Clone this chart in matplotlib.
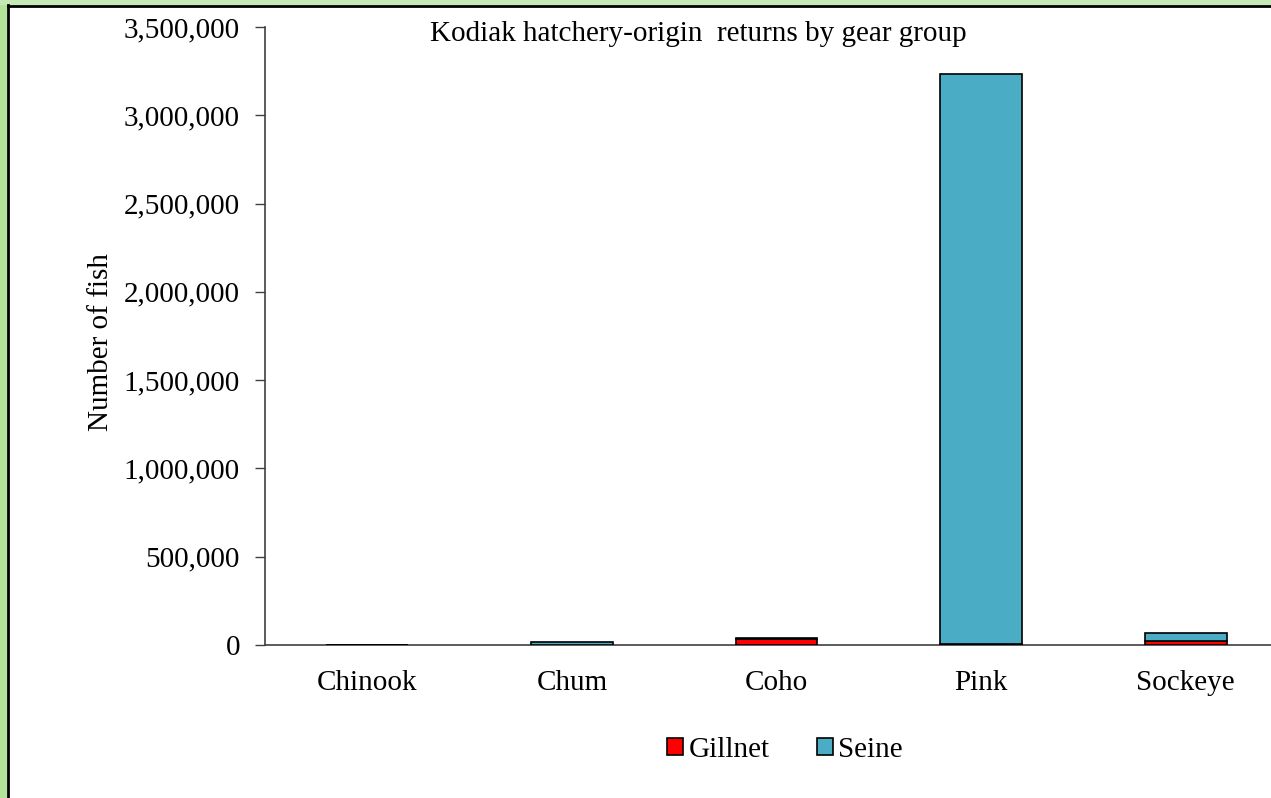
import matplotlib
matplotlib.use("Agg")
import matplotlib.pyplot as plt
from matplotlib.patches import Rectangle
from matplotlib.ticker import FuncFormatter
import numpy as np

categories = ["Chinook", "Chum", "Coho", "Pink", "Sockeye"]
gillnet = [500, 2000, 36000, 3000, 24000]
seine = [300, 13000, 1000, 3232000, 44000]
yticks = [0, 500000, 1000000, 1500000, 2000000, 2500000, 3000000, 3500000]

plt.rcParams['font.family'] = ['Liberation Serif', 'DejaVu Serif']

fig = plt.figure(figsize=(12.71, 7.98), dpi=100)
fig.patch.set_facecolor('white')

# green frame (left and top) and black border
fig.patches.append(Rectangle((0, 0), 7/1271, 1, transform=fig.transFigure,
                             facecolor='#b3e29b', edgecolor='none', zorder=0))
fig.patches.append(Rectangle((0, 1 - 5/798), 1, 5/798, transform=fig.transFigure,
                             facecolor='#c4e9b4', edgecolor='none', zorder=0))
fig.lines.append(plt.Line2D([7.5/1271, 7.5/1271], [0, 1 - 5/798], transform=fig.transFigure,
                            color='black', lw=2))
fig.lines.append(plt.Line2D([7.5/1271, 1], [1 - 5.5/798, 1 - 5.5/798], transform=fig.transFigure,
                            color='black', lw=2))

ax = fig.add_axes([265/1271, 1 - 645/798, 1023/1271, (645 - 27)/798])
x = np.arange(len(categories))
w = 0.4
ax.bar(x, gillnet, w, color='#ff0000', edgecolor='black', lw=1.2, label='Gillnet', zorder=3)
ax.bar(x, seine, w, bottom=gillnet, color='#4bacc6', edgecolor='black', lw=1.2, label='Seine', zorder=3)

ax.set_xlim(-0.5, len(categories) - 0.5)
ax.set_ylim(0, 3500000)
ax.set_yticks(yticks)
ax.yaxis.set_major_formatter(FuncFormatter(lambda v, p: f"{int(v):,}"))
ax.set_xticks(x)
ax.set_xticklabels(categories)
ax.tick_params(axis='y', labelsize=21, length=7, width=1, color='#404040', pad=11)
ax.tick_params(axis='x', labelsize=21, length=0, pad=18)
for s in ['top', 'right']:
    ax.spines[s].set_visible(False)
for s in ['left', 'bottom']:
    ax.spines[s].set_color('#404040')
    ax.spines[s].set_linewidth(1.2)

fig.text(101/1271, 1 - 342/798, "Number of fish", rotation=90,
         ha='center', va='center', fontsize=21)

fig.text(698/1271, 1 - 34/798, "Kodiak hatchery-origin  returns by gear group",
         ha='center', va='center', fontsize=21)

fig.legend(loc='center', bbox_to_anchor=(785/1271, 1 - 750/798), ncol=2, frameon=False,
           fontsize=21, handlelength=0.55, handleheight=0.55, handletextpad=0.2, columnspacing=1.6)

fig.savefig("out.png", dpi=100)
